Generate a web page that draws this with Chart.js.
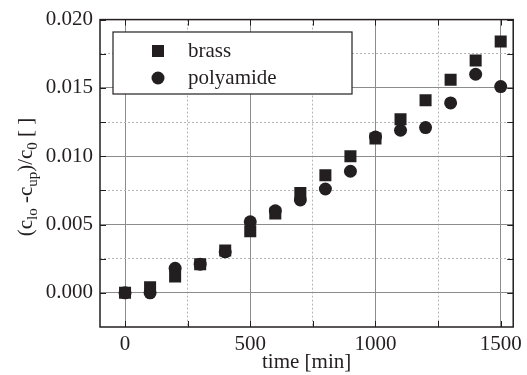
<!DOCTYPE html>
<html>
<head>
<meta charset="utf-8">
<script src="https://cdn.jsdelivr.net/npm/chart.js@4.4.1/dist/chart.umd.min.js"></script>
<style>
  html, body { margin: 0; padding: 0; background: #fff; }
  #wrap { width: 527px; height: 375px; }
</style>
</head>
<body>
<div id="wrap"><canvas id="chart" width="527" height="375"></canvas></div>
<script>
const times = [0, 100, 200, 300, 400, 500, 600, 700, 800, 900, 1000, 1100, 1200, 1300, 1400, 1500];
const brass = [0.0000, 0.0004, 0.0012, 0.0021, 0.0031, 0.0045, 0.0058, 0.0073, 0.0086, 0.0100, 0.0113, 0.0127, 0.0141, 0.0156, 0.0170, 0.0184];
const polyamide = [0.0000, 0.0000, 0.0018, 0.0021, 0.0030, 0.0052, 0.0060, 0.0068, 0.0076, 0.0089, 0.0114, 0.0119, 0.0121, 0.0139, 0.0160, 0.0151];
const xTickLabels = ['0', '500', '1000', '1500'];
const yTickLabels = ['0.000', '0.005', '0.010', '0.015', '0.020'];

const FONT = '"Liberation Serif", "Times New Roman", serif';
const INK = '#231f20';

function isMajor(v, step) {
    return Math.abs(Math.round(v / step) * step - v) < step * 1e-6;
}

// frame, inward ticks, legend box and y title with subscripts
const decorPlugin = {
    id: 'decor',
    afterDraw(chart) {
        const ctx = chart.ctx;
        const a = chart.chartArea;
        const xs = chart.scales.x, ys = chart.scales.y;
        ctx.save();
        ctx.strokeStyle = INK;
        ctx.lineWidth = 1.5;
        ctx.strokeRect(a.left, a.top, a.right - a.left, a.bottom - a.top);

        ctx.lineWidth = 1;
        const tl = 6;
        xs.ticks.forEach(t => {
            const px = Math.round(xs.getPixelForValue(t.value)) + 0.5;
            ctx.beginPath();
            ctx.moveTo(px, a.bottom); ctx.lineTo(px, a.bottom - tl);
            ctx.moveTo(px, a.top); ctx.lineTo(px, a.top + tl);
            ctx.stroke();
        });
        ys.ticks.forEach(t => {
            const py = Math.round(ys.getPixelForValue(t.value)) + 0.5;
            ctx.beginPath();
            ctx.moveTo(a.left, py); ctx.lineTo(a.left + tl, py);
            ctx.moveTo(a.right, py); ctx.lineTo(a.right - tl, py);
            ctx.stroke();
        });

        // legend
        const lx = 113, ly = 32, lw = 239, lh = 62;
        ctx.fillStyle = '#fff';
        ctx.fillRect(lx, ly, lw, lh);
        ctx.strokeStyle = INK;
        ctx.lineWidth = 1.2;
        ctx.strokeRect(lx, ly, lw, lh);
        ctx.fillStyle = INK;
        ctx.fillRect(158 - 6, 51 - 6, 12, 12);
        ctx.beginPath();
        ctx.arc(158, 78, 6.5, 0, Math.PI * 2);
        ctx.fill();
        ctx.font = '21px ' + FONT;
        ctx.textBaseline = 'middle';
        ctx.textAlign = 'left';
        ctx.fillText(chart.data.datasets[0].label, 188, 51);
        ctx.fillText(chart.data.datasets[1].label, 188, 78);

        // y axis title
        const parts = [
            ['(c', false], ['lo', true], [' -c', false], ['up', true],
            [')/c', false], ['0', true], [' [ ]', false]
        ];
        const mainFont = '21px ' + FONT, subFont = '15px ' + FONT;
        let total = 0;
        parts.forEach(p => {
            ctx.font = p[1] ? subFont : mainFont;
            total += ctx.measureText(p[0]).width;
        });
        ctx.translate(32, 177);
        ctx.rotate(-Math.PI / 2);
        ctx.textBaseline = 'alphabetic';
        let cx = -total / 2;
        parts.forEach(p => {
            ctx.font = p[1] ? subFont : mainFont;
            ctx.fillText(p[0], cx, p[1] ? 5 : 0);
            cx += ctx.measureText(p[0]).width;
        });
        ctx.restore();
    }
};

new Chart(document.getElementById('chart').getContext('2d'), {
    type: 'scatter',
    data: {
        datasets: [{
            label: 'brass',
            data: times.map((t, i) => ({ x: t, y: brass[i] })),
            pointStyle: 'rect',
            pointRadius: 8.5,
            backgroundColor: INK,
            borderColor: INK,
            borderWidth: 0
        }, {
            label: 'polyamide',
            data: times.map((t, i) => ({ x: t, y: polyamide[i] })),
            pointStyle: 'circle',
            pointRadius: 6.5,
            backgroundColor: INK,
            borderColor: INK,
            borderWidth: 0
        }]
    },
    options: {
        responsive: false,
        animation: false,
        layout: { padding: { top: 18, right: 10, left: 0, bottom: 0 } },
        plugins: {
            legend: { display: false },
            tooltip: { enabled: false }
        },
        scales: {
            x: {
                type: 'linear',
                min: -100,
                max: 1550,
                afterBuildTicks: scale => {
                    const t = [];
                    for (let v = 0; v <= 1500; v += 250) t.push({ value: v });
                    scale.ticks = t;
                },
                afterFit: scale => { scale.height = 48; },
                grid: {
                    drawTicks: false,
                    color: c => isMajor(c.tick.value, 500) ? '#8c8c8c' : '#b5b5b5',
                    lineWidth: 1
                },
                border: {
                    display: false,
                    dash: c => (c.tick && isMajor(c.tick.value, 500)) ? [] : [2, 2]
                },
                ticks: {
                    autoSkip: false,
                    maxRotation: 0,
                    padding: 5,
                    color: INK,
                    font: { family: FONT, size: 21 },
                    callback: v => isMajor(v, 500) ? xTickLabels[Math.round(v / 500)] : ''
                },
                title: {
                    display: true,
                    text: 'time [min]',
                    color: INK,
                    font: { family: FONT, size: 21 },
                    padding: { top: 0, bottom: 0 }
                }
            },
            y: {
                min: -0.0025,
                max: 0.02,
                afterBuildTicks: scale => {
                    const t = [];
                    for (let k = 0; k <= 8; k++) t.push({ value: k * 0.0025 });
                    scale.ticks = t;
                },
                afterFit: scale => { scale.width = 100; },
                grid: {
                    drawTicks: false,
                    color: c => isMajor(c.tick.value, 0.005) ? '#8c8c8c' : '#b5b5b5',
                    lineWidth: 1
                },
                border: {
                    display: false,
                    dash: c => (c.tick && isMajor(c.tick.value, 0.005)) ? [] : [2, 2]
                },
                ticks: {
                    autoSkip: false,
                    padding: 7,
                    color: INK,
                    font: { family: FONT, size: 21 },
                    callback: v => isMajor(v, 0.005) ? yTickLabels[Math.round(v / 0.005)] : ''
                }
            }
        }
    },
    plugins: [decorPlugin]
});
</script>
</body>
</html>
